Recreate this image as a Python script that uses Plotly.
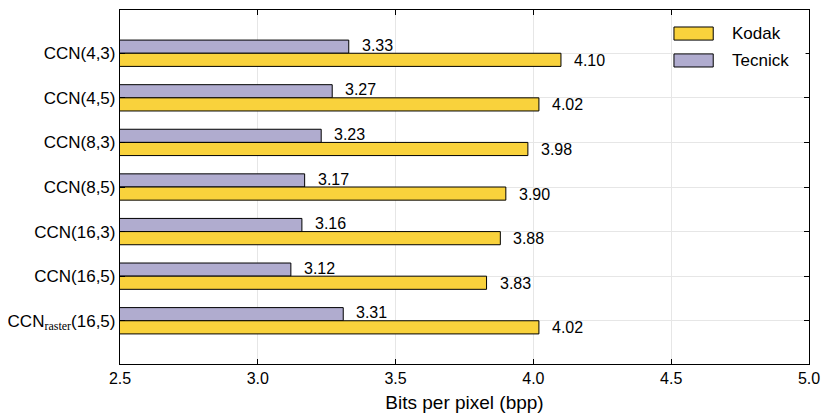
import plotly.graph_objects as go

categories = ["CCN(4,3)", "CCN(4,5)", "CCN(8,3)", "CCN(8,5)", "CCN(16,3)", "CCN(16,5)",
              "CCN<sub><span style='font-family:\"Liberation Serif\",serif;font-size:12px'>raster</span></sub>(16,5)"]
kodak = [4.10, 4.02, 3.98, 3.90, 3.88, 3.83, 4.02]
tecnick = [3.33, 3.27, 3.23, 3.17, 3.16, 3.12, 3.31]
x_ticks = [2.5, 3.0, 3.5, 4.0, 4.5, 5.0]
series_names = ["Kodak", "Tecnick"]

KODAK_COLOR = "#F9D23C"
TECNICK_COLOR = "#B0ACCF"
FONT = "Liberation Sans, Arial, sans-serif"

fig = go.Figure()
fig.add_trace(go.Bar(y=categories, x=tecnick, orientation="h", name=series_names[1],
                     marker=dict(color=TECNICK_COLOR, line=dict(color="black", width=1)),
                     showlegend=False))
fig.add_trace(go.Bar(y=categories, x=kodak, orientation="h", name=series_names[0],
                     marker=dict(color=KODAK_COLOR, line=dict(color="black", width=1)),
                     showlegend=False))

annotations = []
for c, v in zip(categories, tecnick):
    annotations.append(dict(x=v, y=c, text=f"{v:.2f}", showarrow=False, xanchor="left",
                            xshift=11, yshift=8, font=dict(size=16, color="black", family=FONT)))
for c, v in zip(categories, kodak):
    annotations.append(dict(x=v, y=c, text=f"{v:.2f}", showarrow=False, xanchor="left",
                            xshift=11, yshift=-7, font=dict(size=16, color="black", family=FONT)))

# Legend (matplotlib-style wide patches) in paper coordinates
shapes = [
    dict(type="rect", xref="paper", yref="paper", x0=0.803, x1=0.995, y0=0.80, y1=0.985,
         fillcolor="white", line=dict(width=0), layer="above"),
    dict(type="rect", xref="paper", yref="paper", x0=0.804, x1=0.861, y0=0.915, y1=0.952,
         fillcolor=KODAK_COLOR, line=dict(color="black", width=1), layer="above"),
    dict(type="rect", xref="paper", yref="paper", x0=0.804, x1=0.861, y0=0.839, y1=0.876,
         fillcolor=TECNICK_COLOR, line=dict(color="black", width=1), layer="above"),
]
for name, yc in zip(series_names, [0.934, 0.857]):
    annotations.append(dict(x=0.885, y=yc, xref="paper", yref="paper", text=name,
                            showarrow=False, xanchor="left", yanchor="middle",
                            font=dict(size=17, color="black", family=FONT)))

fig.update_layout(
    width=830, height=420,
    margin=dict(l=112, r=29, t=2, b=64),
    paper_bgcolor="white", plot_bgcolor="white",
    barmode="group", bargap=0.41, bargroupgap=0,
    font=dict(family=FONT, size=16, color="black"),
    annotations=annotations,
    shapes=shapes,
    showlegend=False,
    xaxis=dict(range=[2.5, 5.0], tickvals=x_ticks, ticktext=[f"{t:.1f}" for t in x_ticks],
               showgrid=True, gridcolor="#e6e6e6", gridwidth=1,
               showline=True, linecolor="black", linewidth=1.2, mirror="ticks",
               ticks="inside", ticklen=5, tickcolor="black",
               title=dict(text="Bits per pixel (bpp)", font=dict(size=19), standoff=9),
               tickfont=dict(size=16), zeroline=False, automargin=False),
    yaxis=dict(autorange=False, range=[6.97, -0.97], showgrid=True, gridcolor="#e6e6e6",
               gridwidth=1, showline=True, linecolor="black", linewidth=1.2, mirror="ticks",
               ticks="inside", ticklen=5, tickcolor="black", tickfont=dict(size=17),
               automargin=False),
)
fig.write_html("out.html")
